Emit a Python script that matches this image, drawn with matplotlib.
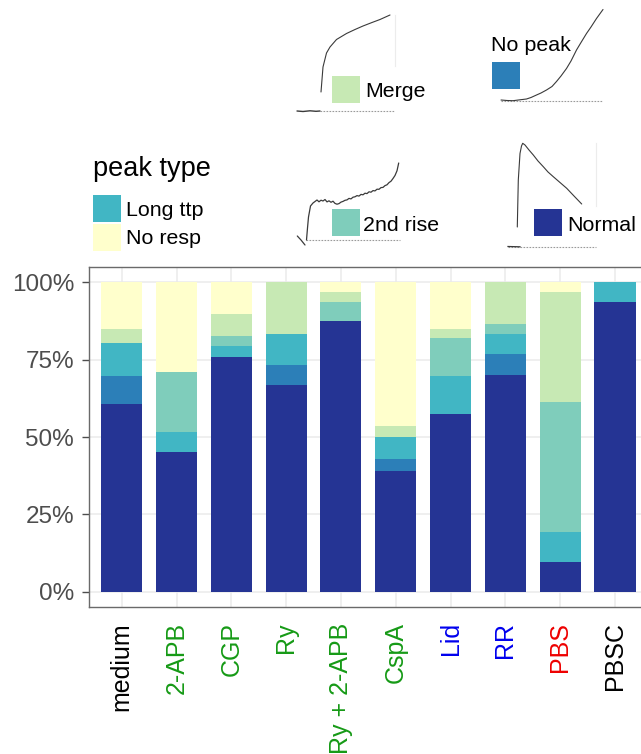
import numpy as np
import matplotlib
matplotlib.use("Agg")
import matplotlib.pyplot as plt
from matplotlib.patches import Rectangle
from matplotlib.ticker import FuncFormatter

plt.rcParams['font.family'] = ['Liberation Sans', 'DejaVu Sans']

# treatments and label colours (by drug class)
treatments = ["medium", "2-APB", "CGP", "Ry", "Ry + 2-APB", "CspA", "Lid", "RR", "PBS", "PBSC"]
GREEN, BLUE, RED = "#169a16", "#0000ee", "#ee0000"
label_colors = ["black", GREEN, GREEN, GREEN, GREEN, GREEN, BLUE, BLUE, RED, "black"]

# share of cells per peak type (%), stacked bottom -> top
peak_types = ["Normal", "No peak", "Long ttp", "2nd rise", "Merge", "No resp"]
normal = [60.7, 45.0, 75.9, 66.7, 87.5, 39.1, 57.4, 70.0, 9.5, 93.75]
no_peak = [8.9, 0, 0, 6.7, 0, 3.7, 0, 6.7, 0, 0]
long_ttp = [10.8, 6.5, 3.4, 10.0, 0, 7.1, 12.4, 6.7, 9.8, 6.25]
second_rise = [0, 19.4, 3.4, 0, 6.25, 0, 12.1, 3.3, 41.9, 0]
merge = [4.4, 0, 7.1, 16.6, 3.1, 3.7, 3.0, 13.3, 35.7, 0]
no_resp = [15.2, 29.1, 10.2, 0, 3.15, 46.4, 15.1, 0, 3.1, 0]

palette = {
    "Normal": "#253494",
    "No peak": "#2c7fb8",
    "Long ttp": "#41b6c4",
    "2nd rise": "#7fcdbb",
    "Merge": "#c7e9b4",
    "No resp": "#ffffcc",
}

# example traces for each peak type (pixel coords of the sketch area)
merge_trace = [(321, 92), (323, 67), (326.5, 53), (330, 47), (336.5, 39.5), (346.5, 33.5),
               (355, 29.5), (363, 26), (372, 22.5), (380, 19.5), (390, 15)]
merge_pre = [(297, 111), (303, 111.5), (310, 110.8), (316, 111.3), (320, 111)]
nopeak_trace = [(501, 100), (507, 100.5), (513, 100.7), (520, 99.8), (526.5, 99), (531, 97.5),
                (536.5, 95), (541, 93), (546.5, 90), (552, 86.5), (556.5, 81.5), (561, 76),
                (566.5, 68.5), (571, 61), (576.5, 50), (581, 42.5), (586.5, 33.5), (591, 27),
                (596.5, 18.5), (603, 9.5)]
rise2_trace = [(306.5, 240), (307.5, 228), (308.5, 217), (310.5, 206), (313, 203), (315, 201.5),
               (317, 200), (319, 201.8), (321, 200.2), (323, 201), (325, 199.5), (327, 201.9),
               (329, 200.8), (331, 202.3), (333, 201.2), (335, 203.4), (337, 204.2), (339, 203.6),
               (341, 202.1), (343, 201.4), (345, 200.3), (347, 199.9), (349, 198.4), (351, 198.9),
               (353, 197.2), (355, 196.8), (357, 195.6), (359, 196.1), (361, 194.4), (363, 194.8),
               (365, 193.2), (367, 193.6), (369, 191.8), (371, 192.2), (373, 190.6), (375, 190.9),
               (377, 189.2), (379, 189.3), (381, 187.6), (383, 187.4), (385, 185.6), (387, 184.8),
               (389, 182.6), (391, 181.2), (393, 178.5), (395, 175.5), (397, 170.8), (398.7, 163)]
rise2_pre = [(297.3, 236), (301, 240), (305, 245)]
normal_trace = [(517.3, 227), (518.3, 180), (520, 153.5), (521.5, 146), (522.7, 143.3),
                (525, 145), (529, 150), (533.3, 155), (538, 161), (543.3, 166.7), (548, 172),
                (553.3, 176.7), (560, 182.5), (566.7, 188.3), (574, 196), (581.7, 204)]

series = [normal, no_peak, long_ttp, second_rise, merge, no_resp]
W, H = 641, 754
fig = plt.figure(figsize=(W / 100, H / 100), dpi=100)

# main panel (right edge runs past the canvas)
left_px, right_px, top_px, bottom_px = 88.8, 647.9, 267, 607
ax = fig.add_axes([left_px / W, (H - bottom_px) / H,
                   (right_px - left_px) / W, (bottom_px - top_px) / H])

x = np.arange(1, len(treatments) + 1)
bottom = np.zeros(len(treatments))
for name, vals in zip(peak_types, series):
    v = np.array(vals, dtype=float) / 100
    ax.bar(x, v, width=0.75, bottom=bottom, color=palette[name], linewidth=0, zorder=2)
    bottom += v

ax.set_xlim(0.4, 10.6)
ax.set_ylim(-0.05, 1.05)
ax.set_yticks([0, 0.25, 0.5, 0.75, 1.0])
ax.yaxis.set_major_formatter(FuncFormatter(lambda v, _: f"{v * 100:.0f}%"))
ax.set_xticks(x)
ax.set_xticklabels(treatments, rotation=90, va="top", ha="center")
for lab, c in zip(ax.get_xticklabels(), label_colors):
    lab.set_color(c)

ax.grid(True, color="#ebebeb", linewidth=1.1, zorder=0)
ax.set_axisbelow(True)
ax.tick_params(axis="y", length=5, width=1, color="#4d4d4d", labelcolor="#4d4d4d",
               labelsize=17.5, pad=5.5)
ax.tick_params(axis="x", length=0, labelsize=18, pad=11)
for s in ax.spines.values():
    s.set_color("#6a6a6a")
    s.set_linewidth(1.0)

# overlay for legend keys and example traces
ov = fig.add_axes([0, 0, 1, 1], facecolor="none")
ov.set_xlim(0, W)
ov.set_ylim(H, 0)
ov.axis("off")


def key(x0, y0, name):
    ov.add_patch(Rectangle((x0, y0), 27.5, 27, facecolor=palette[name], edgecolor="none"))


def label(tx, ty, text, size=15.4):
    ov.text(tx, ty, text, fontsize=size, va="baseline", ha="left", color="black")


label(93, 176, "peak type", size=19.5)
key(93, 195, "Long ttp")
label(126, 216, "Long ttp")
key(93, 224, "No resp")
label(126, 244, "No resp")
key(332, 76, "Merge")
label(365, 97, "Merge")
key(492, 62, "No peak")
label(491, 51, "No peak")
key(332, 209, "2nd rise")
label(363, 231, "2nd rise")
key(534, 209, "Normal")
label(567, 231, "Normal")


def trace(pts, lw=0.8):
    px, py = zip(*pts)
    ov.plot(px, py, color="#3a3a3a", lw=lw, solid_capstyle="round")


def baseline(x0, x1, y):
    ov.plot([x0, x1], [y, y], color="#9a9a9a", lw=0.8, ls=(0, (1.5, 1.2)))


baseline(320, 395, 111)
trace(merge_pre, lw=1.0)
trace(merge_trace)
ov.plot([395, 395], [15, 66], color="#ececec", lw=0.8)

baseline(501, 603, 100.7)
trace(nopeak_trace)

baseline(306, 400, 239.5)
trace(rise2_pre, lw=0.9)
trace(rise2_trace, lw=0.9)

baseline(508, 596, 246.5)
ov.plot([508, 520], [246.5, 246.8], color="#3a3a3a", lw=0.9)
trace(normal_trace)
ov.plot([596, 596], [143, 206], color="#ececec", lw=0.8)

fig.savefig("out.png", dpi=100)
